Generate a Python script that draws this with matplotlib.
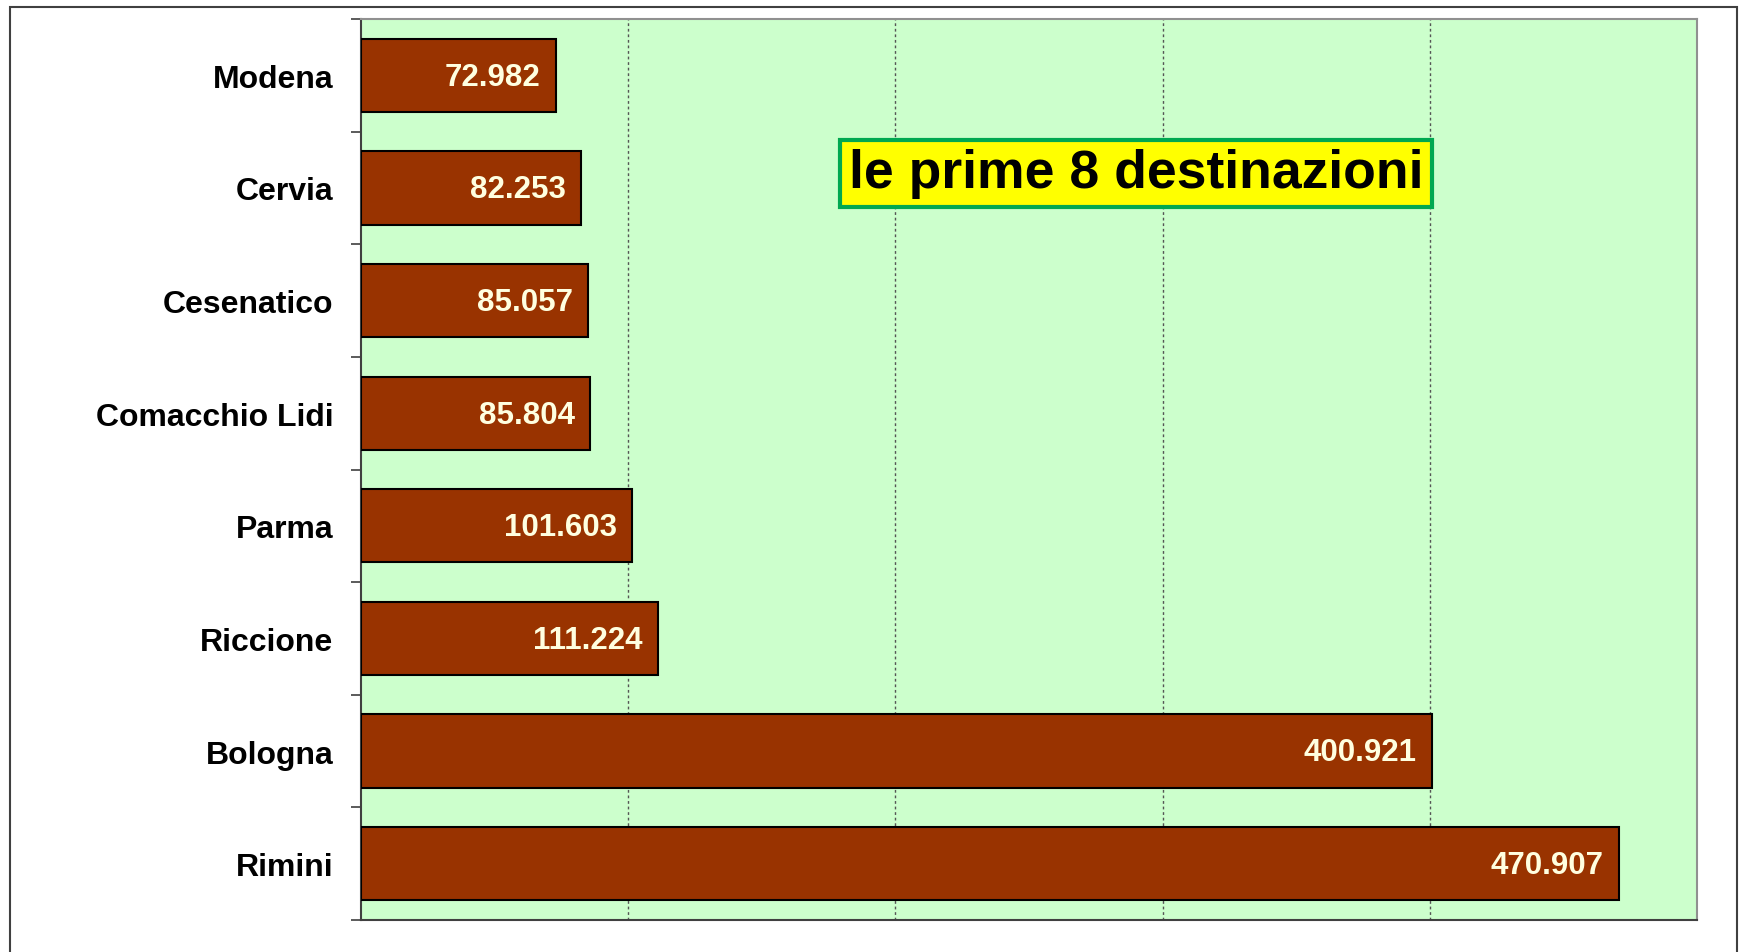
import matplotlib
matplotlib.use("Agg")
import matplotlib.pyplot as plt
from matplotlib.patches import Rectangle

categories = ["Modena", "Cervia", "Cesenatico", "Comacchio Lidi", "Parma", "Riccione", "Bologna", "Rimini"]
values = [72982, 82253, 85057, 85804, 101603, 111224, 400921, 470907]
title_text = "le prime 8 destinazioni"

plt.rcParams['font.family'] = ['Liberation Sans', 'DejaVu Sans']

fig = plt.figure(figsize=(17.41, 9.53), dpi=100)
ax = fig.add_axes([361/1741, 1-921/953, 1336/1741, 901/953])
ax.set_facecolor('#CCFFCC')

y = list(range(len(categories)))
ax.barh(y, values, height=0.65, color='#993300', edgecolor='black', linewidth=1.5, zorder=3)

ax.set_xlim(0, 500000)
ax.set_ylim(len(categories)-0.5, -0.5)
ax.set_xticks([100000, 200000, 300000, 400000])
ax.tick_params(axis='x', length=0, labelbottom=False)
ax.grid(axis='x', color='#555555', linestyle=(0, (2, 2)), linewidth=1.0, zorder=1)

ax.set_yticks(y)
ax.set_yticklabels(categories, fontsize=23, fontweight='bold')
ax.tick_params(axis='y', which='major', length=0, pad=20)
ax.set_yticks([i - 0.5 for i in range(len(categories)+1)], minor=True)
ax.tick_params(axis='y', which='minor', length=7, width=1.2, color='#404040', direction='out')

for s in ['left', 'bottom']:
    ax.spines[s].set_color('#404040')
    ax.spines[s].set_linewidth(1.5)
for s in ['top', 'right']:
    ax.spines[s].set_color('#909090')
    ax.spines[s].set_linewidth(1.5)

def fmt(v):
    return f"{v:,}".replace(",", ".")

for yi, v in zip(y, values):
    ax.annotate(fmt(v), xy=(v, yi), xytext=(-11, -1), textcoords='offset points',
                ha='right', va='center', fontsize=22.5, fontweight='bold',
                color='#FFFFE0', zorder=4)

ax.text(0.580, 0.829, title_text, transform=ax.transAxes, ha='center', va='center',
        fontsize=38.5, fontweight='bold', color='black', zorder=5,
        bbox=dict(boxstyle='square,pad=0.16', facecolor='#FFFF00', edgecolor='#00A850', linewidth=3))

fig.patches.append(Rectangle((10/1741, -0.02), 1727/1741, 1.02 - 8/953, transform=fig.transFigure,
                             fill=False, edgecolor='#404040', linewidth=1.5))

fig.savefig("out.png", dpi=100, facecolor='white')
